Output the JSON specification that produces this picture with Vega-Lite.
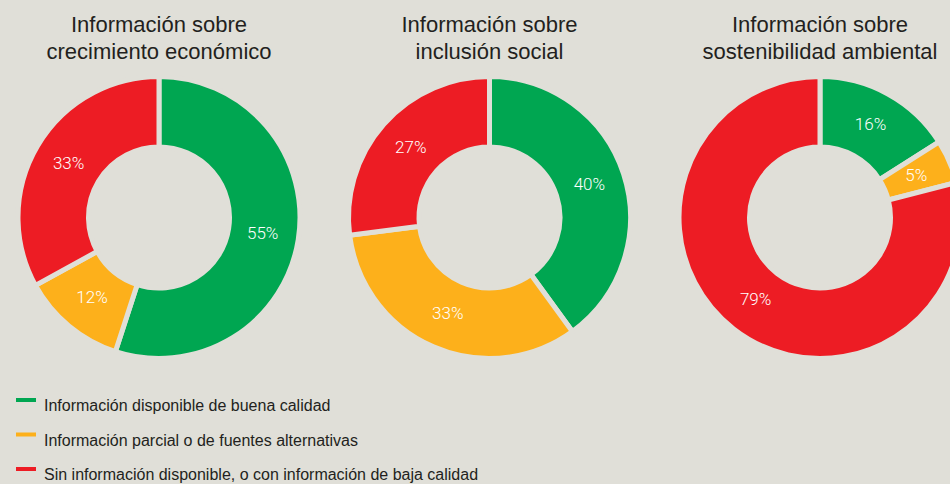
{
  "$schema": "https://vega.github.io/schema/vega-lite/v6.json",
  "width": 950,
  "height": 435,
  "autosize": {"type": "none"},
  "padding": {"left": 0, "top": 0, "right": 0, "bottom": 49},
  "background": "#e0dfd8",
  "config": {"view": {"stroke": null}, "font": "Liberation Sans"},
  "datasets": {
    "slices": [
      {"chart": "crecimiento", "order": 1, "category": "Información disponible de buena calidad", "pct": 55},
      {"chart": "crecimiento", "order": 2, "category": "Información parcial o de fuentes alternativas", "pct": 12},
      {"chart": "crecimiento", "order": 3, "category": "Sin información disponible, o con información de baja calidad", "pct": 33},
      {"chart": "inclusion", "order": 1, "category": "Información disponible de buena calidad", "pct": 40},
      {"chart": "inclusion", "order": 2, "category": "Información parcial o de fuentes alternativas", "pct": 33},
      {"chart": "inclusion", "order": 3, "category": "Sin información disponible, o con información de baja calidad", "pct": 27},
      {"chart": "sostenibilidad", "order": 1, "category": "Información disponible de buena calidad", "pct": 16},
      {"chart": "sostenibilidad", "order": 2, "category": "Información parcial o de fuentes alternativas", "pct": 5},
      {"chart": "sostenibilidad", "order": 3, "category": "Sin información disponible, o con información de baja calidad", "pct": 79}
    ],
    "titles": [
      {"chart": "crecimiento", "title": ["Información sobre", "crecimiento económico"]},
      {"chart": "inclusion", "title": ["Información sobre", "inclusión social"]},
      {"chart": "sostenibilidad", "title": ["Información sobre", "sostenibilidad ambiental"]}
    ]
  },
  "layer": [
    {
      "data": {"name": "slices"},
      "transform": [
        {"stack": "pct", "groupby": ["chart"], "sort": [{"field": "order", "order": "ascending"}], "as": ["p0", "p1"]}
      ],
      "mark": {"type": "arc", "innerRadius": 70.5, "outerRadius": 141, "stroke": "#e0dfd8", "strokeWidth": 5},
      "encoding": {
        "x": {"field": "chart", "type": "nominal", "sort": ["crecimiento", "inclusion", "sostenibilidad"], "scale": {"type": "point", "range": [159, 820], "padding": 0}, "axis": null},
        "theta": {"field": "p0", "type": "quantitative", "scale": {"domain": [0, 100]}},
        "theta2": {"field": "p1"},
        "color": {
          "field": "category",
          "type": "nominal",
          "scale": {
            "domain": ["Información disponible de buena calidad", "Información parcial o de fuentes alternativas", "Sin información disponible, o con información de baja calidad"],
            "range": ["#00a651", "#fdb01b", "#ed1c24"]
          },
          "legend": {
            "title": null,
            "orient": "none",
            "legendX": 16,
            "legendY": 396,
            "symbolType": "M-1,-0.8H1V-0.4H-1Z",
            "symbolSize": 400,
            "symbolStrokeWidth": 0,
            "symbolOpacity": 1,
            "labelFontSize": 16,
            "labelColor": "#231f20",
            "labelFont": "Liberation Sans",
            "labelLimit": 0,
            "labelOffset": 8,
            "rowPadding": 16.5
          }
        }
      }
    },
    {
      "data": {"name": "slices"},
      "transform": [
        {"stack": "pct", "groupby": ["chart"], "sort": [{"field": "order", "order": "ascending"}], "as": ["p0", "p1"]},
        {"calculate": "(datum.p0 + datum.p1) / 2", "as": "mid"},
        {"calculate": "datum.pct + '%'", "as": "label"}
      ],
      "mark": {"type": "text", "radius": 105, "fontSize": 17, "font": "Roboto", "fontWeight": 300, "color": "white", "align": "center", "baseline": "middle"},
      "encoding": {
        "x": {"field": "chart", "type": "nominal", "sort": ["crecimiento", "inclusion", "sostenibilidad"], "scale": {"type": "point", "range": [159, 820], "padding": 0}, "axis": null},
        "theta": {"field": "mid", "type": "quantitative", "scale": {"domain": [0, 100]}},
        "text": {"field": "label"}
      }
    },
    {
      "data": {"name": "titles"},
      "mark": {"type": "text", "fontSize": 22, "color": "#231f20", "align": "center", "baseline": "alphabetic", "lineHeight": 27, "y": 32},
      "encoding": {
        "x": {"field": "chart", "type": "nominal", "sort": ["crecimiento", "inclusion", "sostenibilidad"], "scale": {"type": "point", "range": [159, 820], "padding": 0}, "axis": null},
        "text": {"field": "title"}
      }
    }
  ]
}
